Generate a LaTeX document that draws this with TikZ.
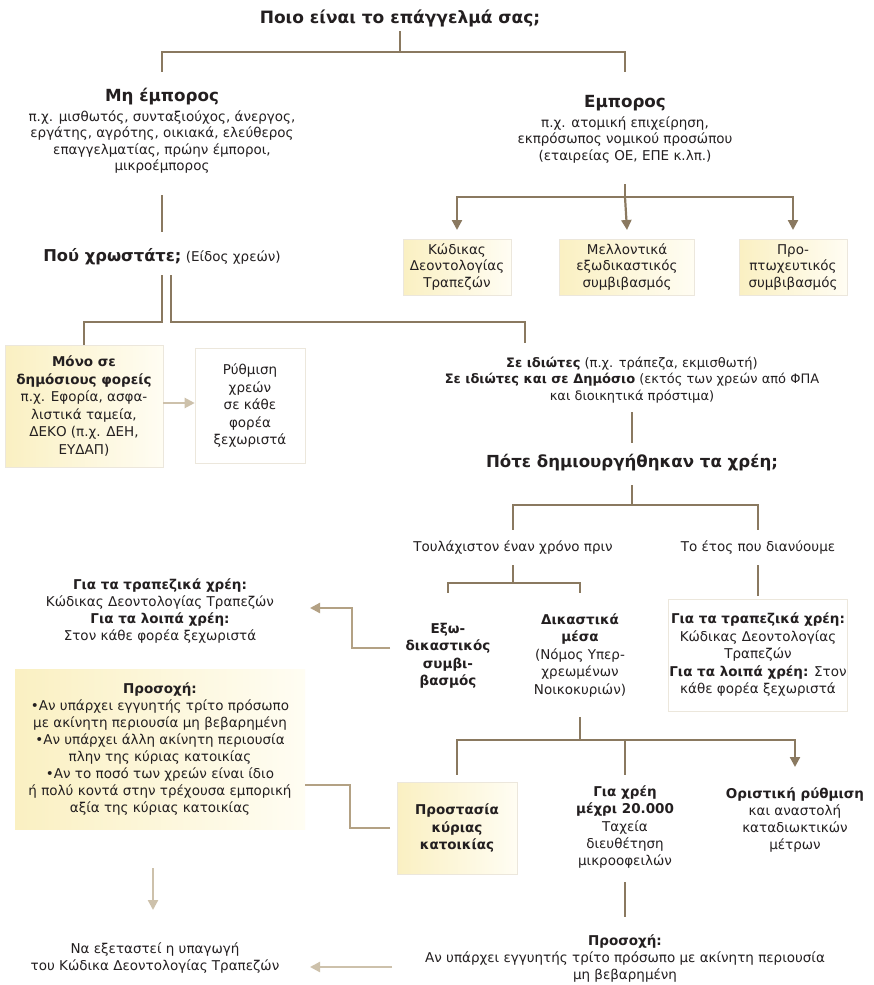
\documentclass[tikz,border=0pt]{standalone}
\usepackage{fontspec}
\setmainfont{DejaVu Sans}
\usetikzlibrary{arrows.meta,calc}
\definecolor{ink}{HTML}{231F20}
\definecolor{cn}{HTML}{8A7960}
\definecolor{cnm}{HTML}{B3A184}
\definecolor{cnl}{HTML}{CDC1AB}
\definecolor{hlA}{HTML}{FAF0C2}
\definecolor{hlB}{HTML}{FFFDF3}
\definecolor{edge}{HTML}{ECE7DC}
\tikzset{
  tx/.style={align=center, text=ink, font=\fontsize{13.5}{16.5}\selectfont, inner sep=1pt},
  hone/.style={text=ink, font=\fontsize{17}{20}\selectfont\bfseries, inner sep=1pt},
  htwo/.style={text=ink, font=\fontsize{16.7}{20}\selectfont\bfseries, inner sep=1pt},
  hlbox/.style={tx, left color=hlA, right color=hlB, draw=edge, line width=0.6pt},
  plainbox/.style={tx, fill=white, draw=edge, line width=0.6pt},
  conn/.style={draw=cn, line width=2.2pt},
  connm/.style={draw=cnm, line width=2.2pt},
  connl/.style={draw=cnl, line width=2.2pt},
  arr/.style={-{Triangle[width=10pt,length=10pt]}}
}
\begin{document}
\begin{tikzpicture}[x=1pt,y=-1pt]
\useasboundingbox[fill=white] (0,0) rectangle (873,985);

% ---------- top level
\node[hone] (title) at (400,18) {Ποιο είναι το επάγγελμά σας;};
\node[htwo] (mih) at (162,97) {Μη έμπορος};
\node[tx] (mid) at (162,142) {π.χ. μισθωτός, συνταξιούχος, άνεργος,\\εργάτης, αγρότης, οικιακά, ελεύθερος\\επαγγελματίας, πρώην έμποροι,\\μικροέμπορος};
\node[htwo] (emh) at (625,103) {Εμπορος};
\node[tx] (emd) at (625,140) {π.χ. ατομική επιχείρηση,\\εκπρόσωπος νομικού προσώπου\\(εταιρείας ΟΕ, ΕΠΕ κ.λπ.)};

\coordinate (jt) at (400,52);
\draw[conn] (title.south |- 0,31) -- (jt);
\draw[conn] (jt) -| (mih.north |- 0,72);
\draw[conn] (jt) -| (emh.north |- 0,72);

% ---------- Emporos branch
\node[hlbox, minimum width=108pt, minimum height=56pt] (k1) at (457,267) {Κώδικας\\Δεοντολογίας\\Τραπεζών};
\node[hlbox, minimum width=135pt, minimum height=56pt] (k2) at (627,267) {Μελλοντικά\\εξωδικαστικός\\συμβιβασμός};
\node[hlbox, minimum width=108pt, minimum height=56pt] (k3) at (793,267) {Προ-\\πτωχευτικός\\συμβιβασμός};
\coordinate (je) at (625,197);
\draw[conn] (emd.south |- 0,184) -- (je);
\draw[conn,arr] (je) -| (k1.north |- 0,230);
\draw[conn,arr] (je) -- (k2.north |- 0,230);
\draw[conn,arr] (je) -| (k3.north |- 0,230);

% ---------- Pou xrostate
\node[tx] (pou) at (162,257) {{\fontsize{16.3}{20}\selectfont\bfseries Πού χρωστάτε;} (Είδος χρεών)};
\draw[conn] (mid.south |- 0,195) -- (pou.north |- 0,232);

\node[hlbox, minimum width=158pt, minimum height=122pt, font=\fontsize{13.5}{17.5}\selectfont] (mon) at (84,406) {\textbf{Μόνο σε}\\\textbf{δημόσιους φορείς}\\π.χ. Εφορία, ασφα-\\λιστικά ταμεία,\\ΔΕΚΟ (π.χ. ΔΕΗ,\\ΕΥΔΑΠ)};
\node[plainbox, minimum width=110pt, minimum height=115pt, font=\fontsize{13.5}{17.5}\selectfont] (ryth) at (250,406) {Ρύθμιση\\χρεών\\σε κάθε\\φορέα\\ξεχωριστά};
\draw[connl,arr] (mon.east |- 0,403) -- (ryth.west |- 0,403);

\node[tx, font=\fontsize{13}{16.5}\selectfont] (idi) at (632,380) {\textbf{Σε ιδιώτες} (π.χ. τράπεζα, εκμισθωτή)\\\textbf{Σε ιδιώτες και σε Δημόσιο} (εκτός των χρεών από ΦΠΑ\\και διοικητικά πρόστιμα)};

\coordinate (pl) at (162,322);
\draw[conn] (pou.south |- 0,275) -- (pl) -| (mon.north);
\coordinate (pr0) at (171,275);
\coordinate (pr1) at (171,322);
\coordinate (ie) at (525,343);
\draw[conn] (pr0) -- (pr1) -| (ie);

% ---------- Pote
\node[htwo, font=\fontsize{16.6}{20}\selectfont\bfseries] (pote) at (632,463) {Πότε δημιουργήθηκαν τα χρέη;};
\draw[conn] (idi.south |- 0,412) -- (pote.north |- 0,443);
\node[tx] (t1) at (513,548) {Τουλάχιστον έναν χρόνο πριν};
\node[tx] (t2) at (758,548) {Το έτος που διανύουμε};
\coordinate (jp) at (632,505);
\draw[conn] (pote.south |- 0,485) -- (jp);
\draw[conn] (jp) -| (t1.north |- 0,530);
\draw[conn] (jp) -| (t2.north |- 0,530);

\node[tx, font=\fontsize{13.5}{17.5}\selectfont\bfseries] (exo) at (448,656) {Εξω-\\δικαστικός\\συμβι-\\βασμός};
\node[tx, font=\fontsize{13.5}{17.5}\selectfont] (dik) at (580,655) {\textbf{Δικαστικά}\\\textbf{μέσα}\\(Νόμος Υπερ-\\χρεωμένων\\Νοικοκυριών)};
\node[plainbox, minimum width=176pt, minimum height=112pt, font=\fontsize{13.5}{17.5}\selectfont] (rb) at (758,655) {\textbf{Για τα τραπεζικά χρέη:}\\Κώδικας Δεοντολογίας\\Τραπεζών\\\textbf{Για τα λοιπά χρέη:} Στον\\κάθε φορέα ξεχωριστά};
\coordinate (jt1) at (513,583);
\draw[conn] (t1.south |- 0,565) -- (jt1);
\draw[conn] (jt1) -| (exo.north |- 0,593);
\draw[conn] (jt1) -| (dik.north |- 0,593);
\draw[conn] (t2.south |- 0,565) -- (rb.north |- 0,596);

\node[tx, font=\fontsize{13.5}{17}\selectfont] (lt) at (160,611) {\textbf{Για τα τραπεζικά χρέη:}\\Κώδικας Δεοντολογίας Τραπεζών\\\textbf{Για τα λοιπά χρέη:}\\Στον κάθε φορέα ξεχωριστά};
\coordinate (ea) at (390,648);
\coordinate (eb) at (352,608);
\coordinate (ec) at (310,608);
\draw[connm,arr] (ea) -| (eb) -- (ec);

% ---------- Dikastika
\node[hlbox, minimum width=120pt, minimum height=92pt, font=\fontsize{13.5}{17.5}\selectfont\bfseries] (pr) at (457,828) {Προστασία\\κύριας\\κατοικίας};
\node[tx, font=\fontsize{13.5}{17.3}\selectfont] (gx) at (625,827) {\textbf{Για χρέη}\\\textbf{μέχρι 20.000}\\Ταχεία\\διευθέτηση\\μικροοφειλών};
\node[tx, font=\fontsize{13.5}{17.3}\selectfont] (orr) at (795,820) {\textbf{Οριστική ρύθμιση}\\και αναστολή\\καταδιωκτικών\\μέτρων};
\coordinate (jd) at (580,740);
\draw[conn] (dik.south |- 0,717) -- (jd);
\draw[conn] (jd) -| (pr.north |- 0,775);
\draw[conn] (jd) -| (gx.north |- 0,775);
\draw[conn,arr] (jd) -| (orr.north |- 0,767);

\node[hlbox, draw=none, minimum width=290pt, minimum height=160pt, font=\fontsize{13.5}{16.9}\selectfont] (ps) at (160,749) {\textbf{Προσοχή:}\\•Αν υπάρχει εγγυητής τρίτο πρόσωπο\\με ακίνητη περιουσία μη βεβαρημένη\\•Αν υπάρχει άλλη ακίνητη περιουσία\\πλην της κύριας κατοικίας\\•Αν το ποσό των χρεών είναι ίδιο\\ή πολύ κοντά στην τρέχουσα εμπορική\\αξία της κύριας κατοικίας};
\coordinate (pa) at (390,828);
\coordinate (pb) at (350,785);
\coordinate (pc) at (305,785);
\draw[connm] (pa) -| (pb) -- (pc);

\node[tx, font=\fontsize{13.5}{17}\selectfont] (pros2) at (625,958) {\textbf{Προσοχή:}\\Αν υπάρχει εγγυητής τρίτο πρόσωπο με ακίνητη περιουσία\\μη βεβαρημένη};
\draw[conn] (gx.south |- 0,882) -- (pros2.north |- 0,917);

\node[tx, font=\fontsize{13.5}{17}\selectfont] (na) at (155,958) {Να εξεταστεί η υπαγωγή\\του Κώδικα Δεοντολογίας Τραπεζών};
\coordinate (qa) at (392,967);
\coordinate (qb) at (310,967);
\draw[connl,arr] (qa) -- (qb);
\coordinate (sa) at (153,868);
\coordinate (sb) at (153,910);
\draw[connl,arr] (sa) -- (sb);
\end{tikzpicture}
\end{document}
